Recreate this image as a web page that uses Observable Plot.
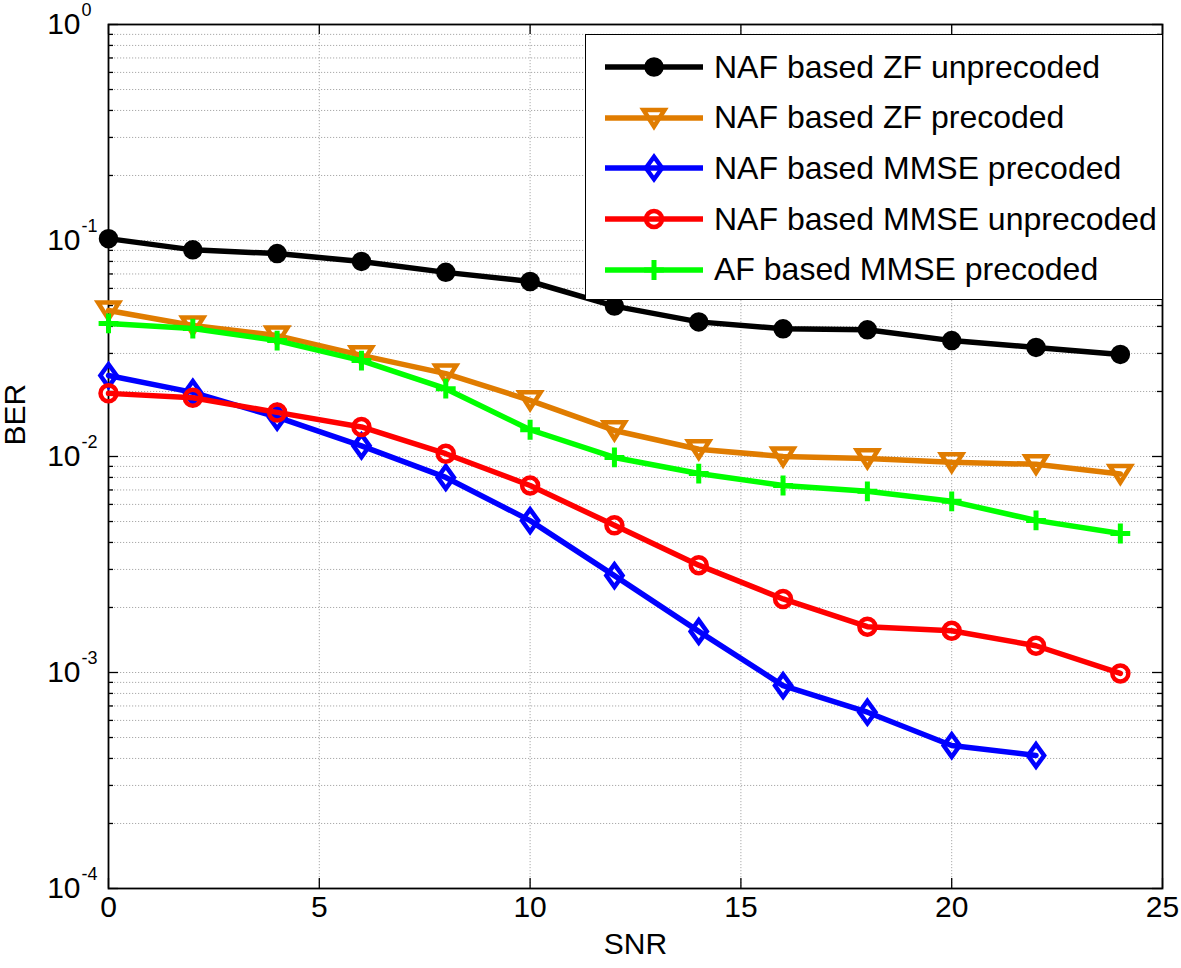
<!DOCTYPE html>
<html>
<head>
<meta charset="utf-8">
<script src="https://cdn.jsdelivr.net/npm/d3@7"></script>
<script src="https://cdn.jsdelivr.net/npm/@observablehq/plot@0.6"></script>
<style>
  html, body { margin: 0; padding: 0; background: #fff; }
  #wrap { position: relative; width: 1181px; height: 968px; font-family: "Liberation Sans", Arial, sans-serif; }
  #legend { position: absolute; left: 585px; top: 34px; width: 578px; height: 266px; box-sizing: border-box;
            border: 1.5px solid #000; background: #fff; padding-top: 7px; }
  .row { display: flex; align-items: center; height: 50.6px; }
  .row svg { margin-left: 18px; flex: none; }
  .row span { margin-left: 10px; font-size: 32px; color: #000; white-space: nowrap; }
</style>
</head>
<body>
<div id="wrap"></div>
<script>
// ---- data ----
const snr = [0, 2, 4, 6, 8, 10, 12, 14, 16, 18, 20, 22, 24];
const zfUnprecoded   = [0.102, 0.0905, 0.0870, 0.0800, 0.0712, 0.0646, 0.0497, 0.0420, 0.0390, 0.0386, 0.0344, 0.0320, 0.0297];
const zfPrecoded     = [0.0474, 0.0404, 0.0363, 0.0294, 0.0242, 0.0182, 0.0132, 0.0108, 0.0100, 0.0098, 0.0094, 0.0092, 0.0083];
const mmsePrecoded   = [0.0237, 0.0198, 0.0152, 0.0112, 0.0080, 0.00505, 0.00281, 0.00155, 0.00087, 0.000655, 0.000459, 0.000413];
const mmseUnprecoded = [0.0196, 0.0187, 0.0160, 0.0137, 0.0103, 0.00734, 0.0048, 0.00314, 0.00219, 0.00163, 0.00156, 0.00133, 0.00099];
const afPrecoded     = [0.0413, 0.0391, 0.0344, 0.0278, 0.0206, 0.0133, 0.0099, 0.00834, 0.00734, 0.00690, 0.0062, 0.00506, 0.0044];

const seriesNames = ["NAF based ZF unprecoded", "NAF based ZF precoded", "NAF based MMSE precoded", "NAF based MMSE unprecoded", "AF based MMSE precoded"];
const seriesValues = [zfUnprecoded, zfPrecoded, mmsePrecoded, mmseUnprecoded, afPrecoded];
const seriesColors = ["#000000", "#e07c00", "#0000ff", "#ff0000", "#00ff00"];

const xTicks = [0, 5, 10, 15, 20, 25];
const xGrid = [5, 10, 15, 20];
const yMajor = [1, 0.1, 0.01, 0.001, 0.0001];
const yExponents = ["0", "-1", "-2", "-3", "-4"];
const yMinor = [];
for (const d of [0.0001, 0.001, 0.01, 0.1]) for (let k = 2; k <= 9; k++) yMinor.push(+(k * d).toPrecision(3));

// ---- symbols (Matlab-like markers) ----
const symTriDown = { draw(ctx, size) { const r = Math.sqrt(size / Math.PI);
  ctx.moveTo(-1.17 * r, -0.9 * r); ctx.lineTo(1.17 * r, -0.9 * r); ctx.lineTo(0, 0.95 * r); ctx.closePath(); } };
const symDiamond = { draw(ctx, size) { const r = Math.sqrt(size / Math.PI);
  ctx.moveTo(0, -1.25 * r); ctx.lineTo(0.9 * r, 0); ctx.lineTo(0, 1.25 * r); ctx.lineTo(-0.9 * r, 0); ctx.closePath(); } };
const symPlus = { draw(ctx, size) { const r = Math.sqrt(size / Math.PI);
  ctx.moveTo(-1.1 * r, 0); ctx.lineTo(1.1 * r, 0); ctx.moveTo(0, -1.1 * r); ctx.lineTo(0, 1.1 * r); } };
const symCircle = { draw(ctx, size) { const r = Math.sqrt(size / Math.PI); ctx.moveTo(r, 0); ctx.arc(0, 0, r, 0, 2 * Math.PI); } };

const seriesStyle = [
  { symbol: symCircle, r: 8.5, fill: "#000000", strokeWidth: 2.5 },
  { symbol: symTriDown, r: 9, fill: "none", strokeWidth: 4.5 },
  { symbol: symDiamond, r: 9, fill: "none", strokeWidth: 4.5 },
  { symbol: symCircle, r: 8, fill: "none", strokeWidth: 4.5 },
  { symbol: symPlus, r: 9, fill: "none", strokeWidth: 5 }
];

const series = seriesNames.map((name, i) => ({
  name, color: seriesColors[i], style: seriesStyle[i],
  data: seriesValues[i].map((v, j) => ({ snr: snr[j], ber: v }))
}));

// ---- plot ----
const W = 1181, H = 968, mL = 108, mT = 24, mR = 19, mB = 80;
const fw = W - mL - mR, fh = H - mT - mB;
const grid = { stroke: "#aaaaaa", strokeWidth: 1, strokeDasharray: "1.2,1.8" };

const marks = [
  Plot.ruleY([...yMinor, ...yMajor.slice(1, 4)], { y: d => d, ...grid }),
  Plot.ruleX(xGrid, { x: d => d, ...grid }),
  // inward ticks
  Plot.tickY(yMajor, { y: d => d, insetRight: fw - 10, stroke: "#000", strokeWidth: 1.3 }),
  Plot.tickY(yMinor, { y: d => d, insetRight: fw - 5, stroke: "#000", strokeWidth: 1.3 }),
  Plot.tickY(yMajor, { y: d => d, insetLeft: fw - 10, stroke: "#000", strokeWidth: 1.3 }),
  Plot.tickY(yMinor, { y: d => d, insetLeft: fw - 5, stroke: "#000", strokeWidth: 1.3 }),
  Plot.tickX(xTicks, { x: d => d, insetTop: fh - 10, stroke: "#000", strokeWidth: 1.3 }),
  Plot.tickX(xTicks, { x: d => d, insetBottom: fh - 10, stroke: "#000", strokeWidth: 1.3 }),
  Plot.frame({ stroke: "#000", strokeWidth: 1.8 }),
  // tick labels
  Plot.text(yMajor, { y: d => d, text: () => "10", frameAnchor: "left", dx: -28, textAnchor: "end", fontSize: 30 }),
  Plot.text(yMajor, { y: d => d, text: (d, i) => yExponents[i], frameAnchor: "left", dx: -27, dy: -14, textAnchor: "start", fontSize: 18 }),
  Plot.text(xTicks, { x: d => d, text: d => String(d), frameAnchor: "bottom", dy: 28, fontSize: 30 }),
  Plot.text(["SNR"], { frameAnchor: "bottom", dy: 65, fontSize: 30 }),
  Plot.text(["BER"], { frameAnchor: "left", dx: -93, dy: -11, rotate: -90, fontSize: 30 })
];

for (const s of series) {
  marks.push(Plot.line(s.data, { x: "snr", y: "ber", stroke: s.color, strokeWidth: 5.5, strokeLinejoin: "round" }));
  marks.push(Plot.dot(s.data, { x: "snr", y: "ber", symbol: s.style.symbol, r: s.style.r, stroke: s.color,
    fill: s.style.fill, strokeWidth: s.style.strokeWidth }));
}

const chart = Plot.plot({
  width: W, height: H,
  marginLeft: mL, marginTop: mT, marginRight: mR, marginBottom: mB,
  x: { domain: [0, 25], axis: null },
  y: { type: "log", domain: [1e-4, 1], axis: null },
  style: { fontFamily: "'Liberation Sans', Arial, sans-serif", fontSize: "30px", background: "#fff", color: "#000", overflow: "visible" },
  marks
});

const wrap = document.getElementById("wrap");
wrap.appendChild(chart);

// ---- legend ----
const legend = document.createElement("div");
legend.id = "legend";
for (const s of series) {
  const row = document.createElement("div");
  row.className = "row";
  const svg = d3.create("svg").attr("width", 100).attr("height", 40);
  svg.append("line").attr("x1", 1).attr("x2", 99).attr("y1", 20).attr("y2", 20)
    .attr("stroke", s.color).attr("stroke-width", 5.5);
  svg.append("path").attr("transform", "translate(50,20)")
    .attr("d", d3.symbol(s.style.symbol, s.style.r * s.style.r * Math.PI)())
    .attr("stroke", s.color).attr("fill", s.style.fill).attr("stroke-width", s.style.strokeWidth);
  row.appendChild(svg.node());
  const span = document.createElement("span");
  span.textContent = s.name;
  row.appendChild(span);
  legend.appendChild(row);
}
wrap.appendChild(legend);
</script>
</body>
</html>
